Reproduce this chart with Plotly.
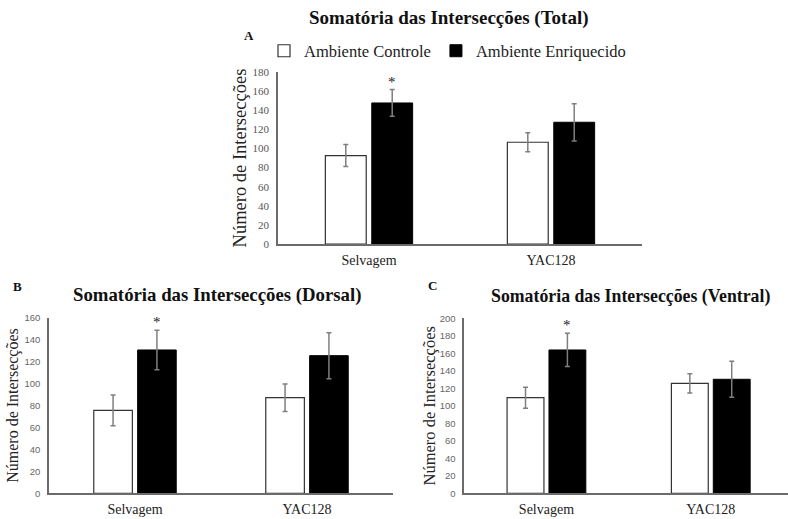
import plotly.graph_objects as go

# ---------------- data ----------------
categories = ["Selvagem", "YAC128"]
series_names = ["Ambiente Controle", "Ambiente Enriquecido"]

total_controle = [92.5, 106.5]
total_controle_err = [11.5, 10.0]
total_enriquecido = [147.6, 127.4]
total_enriquecido_err = [14.0, 19.5]

dorsal_controle = [75.6, 87.1]
dorsal_controle_err = [14.0, 12.5]
dorsal_enriquecido = [130.6, 125.4]
dorsal_enriquecido_err = [18.0, 21.0]

ventral_controle = [109.3, 125.7]
ventral_controle_err = [12.0, 11.0]
ventral_enriquecido = [163.8, 130.3]
ventral_enriquecido_err = [19.0, 20.5]

panel_titles = [
    "Somatória das Intersecções (Total)",
    "Somatória das Intersecções (Dorsal)",
    "Somatória das Intersecções (Ventral)",
]
panel_letters = ["A", "B", "C"]
y_title = "Número de Intersecções"
y_max = [180, 160, 200]
y_step = [20, 20, 20]
significance = ["*", "*", "*"]   # marker above enriched Selvagem bar

W, H = 788, 519
SERIF = "Liberation Serif"
SANS = "Liberation Sans"

panels = [
    (total_controle, total_controle_err, total_enriquecido, total_enriquecido_err),
    (dorsal_controle, dorsal_controle_err, dorsal_enriquecido, dorsal_enriquecido_err),
    (ventral_controle, ventral_controle_err, ventral_enriquecido, ventral_enriquecido_err),
]

# plot areas in pixels: (left, right, top, bottom)
areas = [
    (278, 642, 72, 244),
    (49, 393, 317.7, 493.3),
    (464.3, 788, 318.3, 493.3),
]
x_ranges = [[-0.5, 1.5], [-0.5, 1.5], [-0.5, 1.47]]

BARGAP = 0.49
BARGROUPGAP = 0.12

fig = go.Figure()
axis_color = "#6b6b6b"
err_color = "#7f7f7f"

for i, (c, ce, e, ee) in enumerate(panels):
    xa = "x" if i == 0 else f"x{i+1}"
    ya = "y" if i == 0 else f"y{i+1}"
    fig.add_trace(go.Bar(
        x=categories, y=c, name=series_names[0], xaxis=xa, yaxis=ya,
        marker=dict(color="white", line=dict(color="#333333", width=1.2)),
        error_y=dict(type="data", array=ce, color=err_color, thickness=1.5, width=2.5),
        showlegend=(i == 0), legendgroup="c",
    ))
    fig.add_trace(go.Bar(
        x=categories, y=e, name=series_names[1], xaxis=xa, yaxis=ya,
        marker=dict(color="black", line=dict(color="black", width=1)),
        error_y=dict(type="data", array=ee, color=err_color, thickness=1.5, width=2.5),
        showlegend=(i == 0), legendgroup="e",
    ))

layout = dict(
    width=W, height=H,
    margin=dict(l=0, r=0, t=0, b=0, autoexpand=False),
    paper_bgcolor="white", plot_bgcolor="white",
    barmode="group", bargap=BARGAP, bargroupgap=BARGROUPGAP,
    showlegend=True,
    legend=dict(
        orientation="h", x=264 / W, y=1 - 51 / H, xanchor="left", yanchor="middle",
        font=dict(family=SERIF, size=16.5, color="#222"),
        bgcolor="rgba(0,0,0,0)", itemclick=False, traceorder="normal",
    ),
)

tick_fonts = [dict(family=SERIF, size=11, color="#555"),
              dict(family=SANS, size=9.5, color="#666"),
              dict(family=SANS, size=9.5, color="#666")]
ytitle_sizes = [18.5, 16, 16.5]
ytitle_standoff = [1, 2, 0]

annotations = []
for i in range(3):
    l, r, t, b = areas[i]
    xk = "xaxis" if i == 0 else f"xaxis{i+1}"
    yk = "yaxis" if i == 0 else f"yaxis{i+1}"
    layout[xk] = dict(
        domain=[l / W, r / W], anchor="y" if i == 0 else f"y{i+1}",
        type="category", range=x_ranges[i],
        showline=True, linecolor=axis_color, linewidth=1.5,
        showgrid=False, zeroline=False,
        ticks="outside", ticklen=2, tickcolor="rgba(0,0,0,0)",
        tickfont=dict(family=SERIF, size=14, color="#222"),
        fixedrange=True, automargin=False,
    )
    layout[yk] = dict(
        domain=[1 - b / H, 1 - t / H], anchor="x" if i == 0 else f"x{i+1}",
        range=[0, y_max[i]], dtick=y_step[i], tick0=0,
        showline=True, linecolor=axis_color, linewidth=1.5,
        showgrid=False, zeroline=False,
        ticks="outside", ticklen=5, tickcolor="rgba(0,0,0,0)",
        tickfont=tick_fonts[i],
        title=dict(text=y_title, font=dict(family=SERIF, size=ytitle_sizes[i], color="#222"),
                   standoff=ytitle_standoff[i]),
        fixedrange=True, automargin=False,
    )
    # significance star over enriched Selvagem bar
    slot = (1 - BARGAP) / 2
    xpos = 0 + slot / 2
    _, _, e, ee = panels[i]
    annotations.append(dict(
        x=xpos, y=e[0] + ee[0], xref="x" if i == 0 else f"x{i+1}",
        yref="y" if i == 0 else f"y{i+1}",
        text=significance[i], showarrow=False, yanchor="bottom", yshift=-2,
        font=dict(family=SERIF, size=15, color="#222"),
    ))

# panel titles and letters
title_pos = [(449, 18), (217, 295), (630, 296)]
title_sizes = [19, 18.8, 17.8]
letter_pos = [(249, 36), (17, 286), (432, 285)]
for i in range(3):
    tx, ty = title_pos[i]
    annotations.append(dict(
        x=tx / W, y=1 - ty / H, xref="paper", yref="paper", showarrow=False,
        xanchor="center", yanchor="middle",
        text=f"<b>{panel_titles[i]}</b>",
        font=dict(family=SERIF, size=title_sizes[i], color="#111"),
    ))
    lx, ly = letter_pos[i]
    annotations.append(dict(
        x=lx / W, y=1 - ly / H, xref="paper", yref="paper", showarrow=False,
        xanchor="center", yanchor="middle",
        text=f"<b>{panel_letters[i]}</b>",
        font=dict(family=SERIF, size=13, color="#111"),
    ))

layout["annotations"] = annotations
fig.update_layout(**layout)
fig.write_html(
    "out.html",
    config={"displayModeBar": False},
    post_script="document.body.style.margin='0';document.body.style.overflow='hidden';",
)
